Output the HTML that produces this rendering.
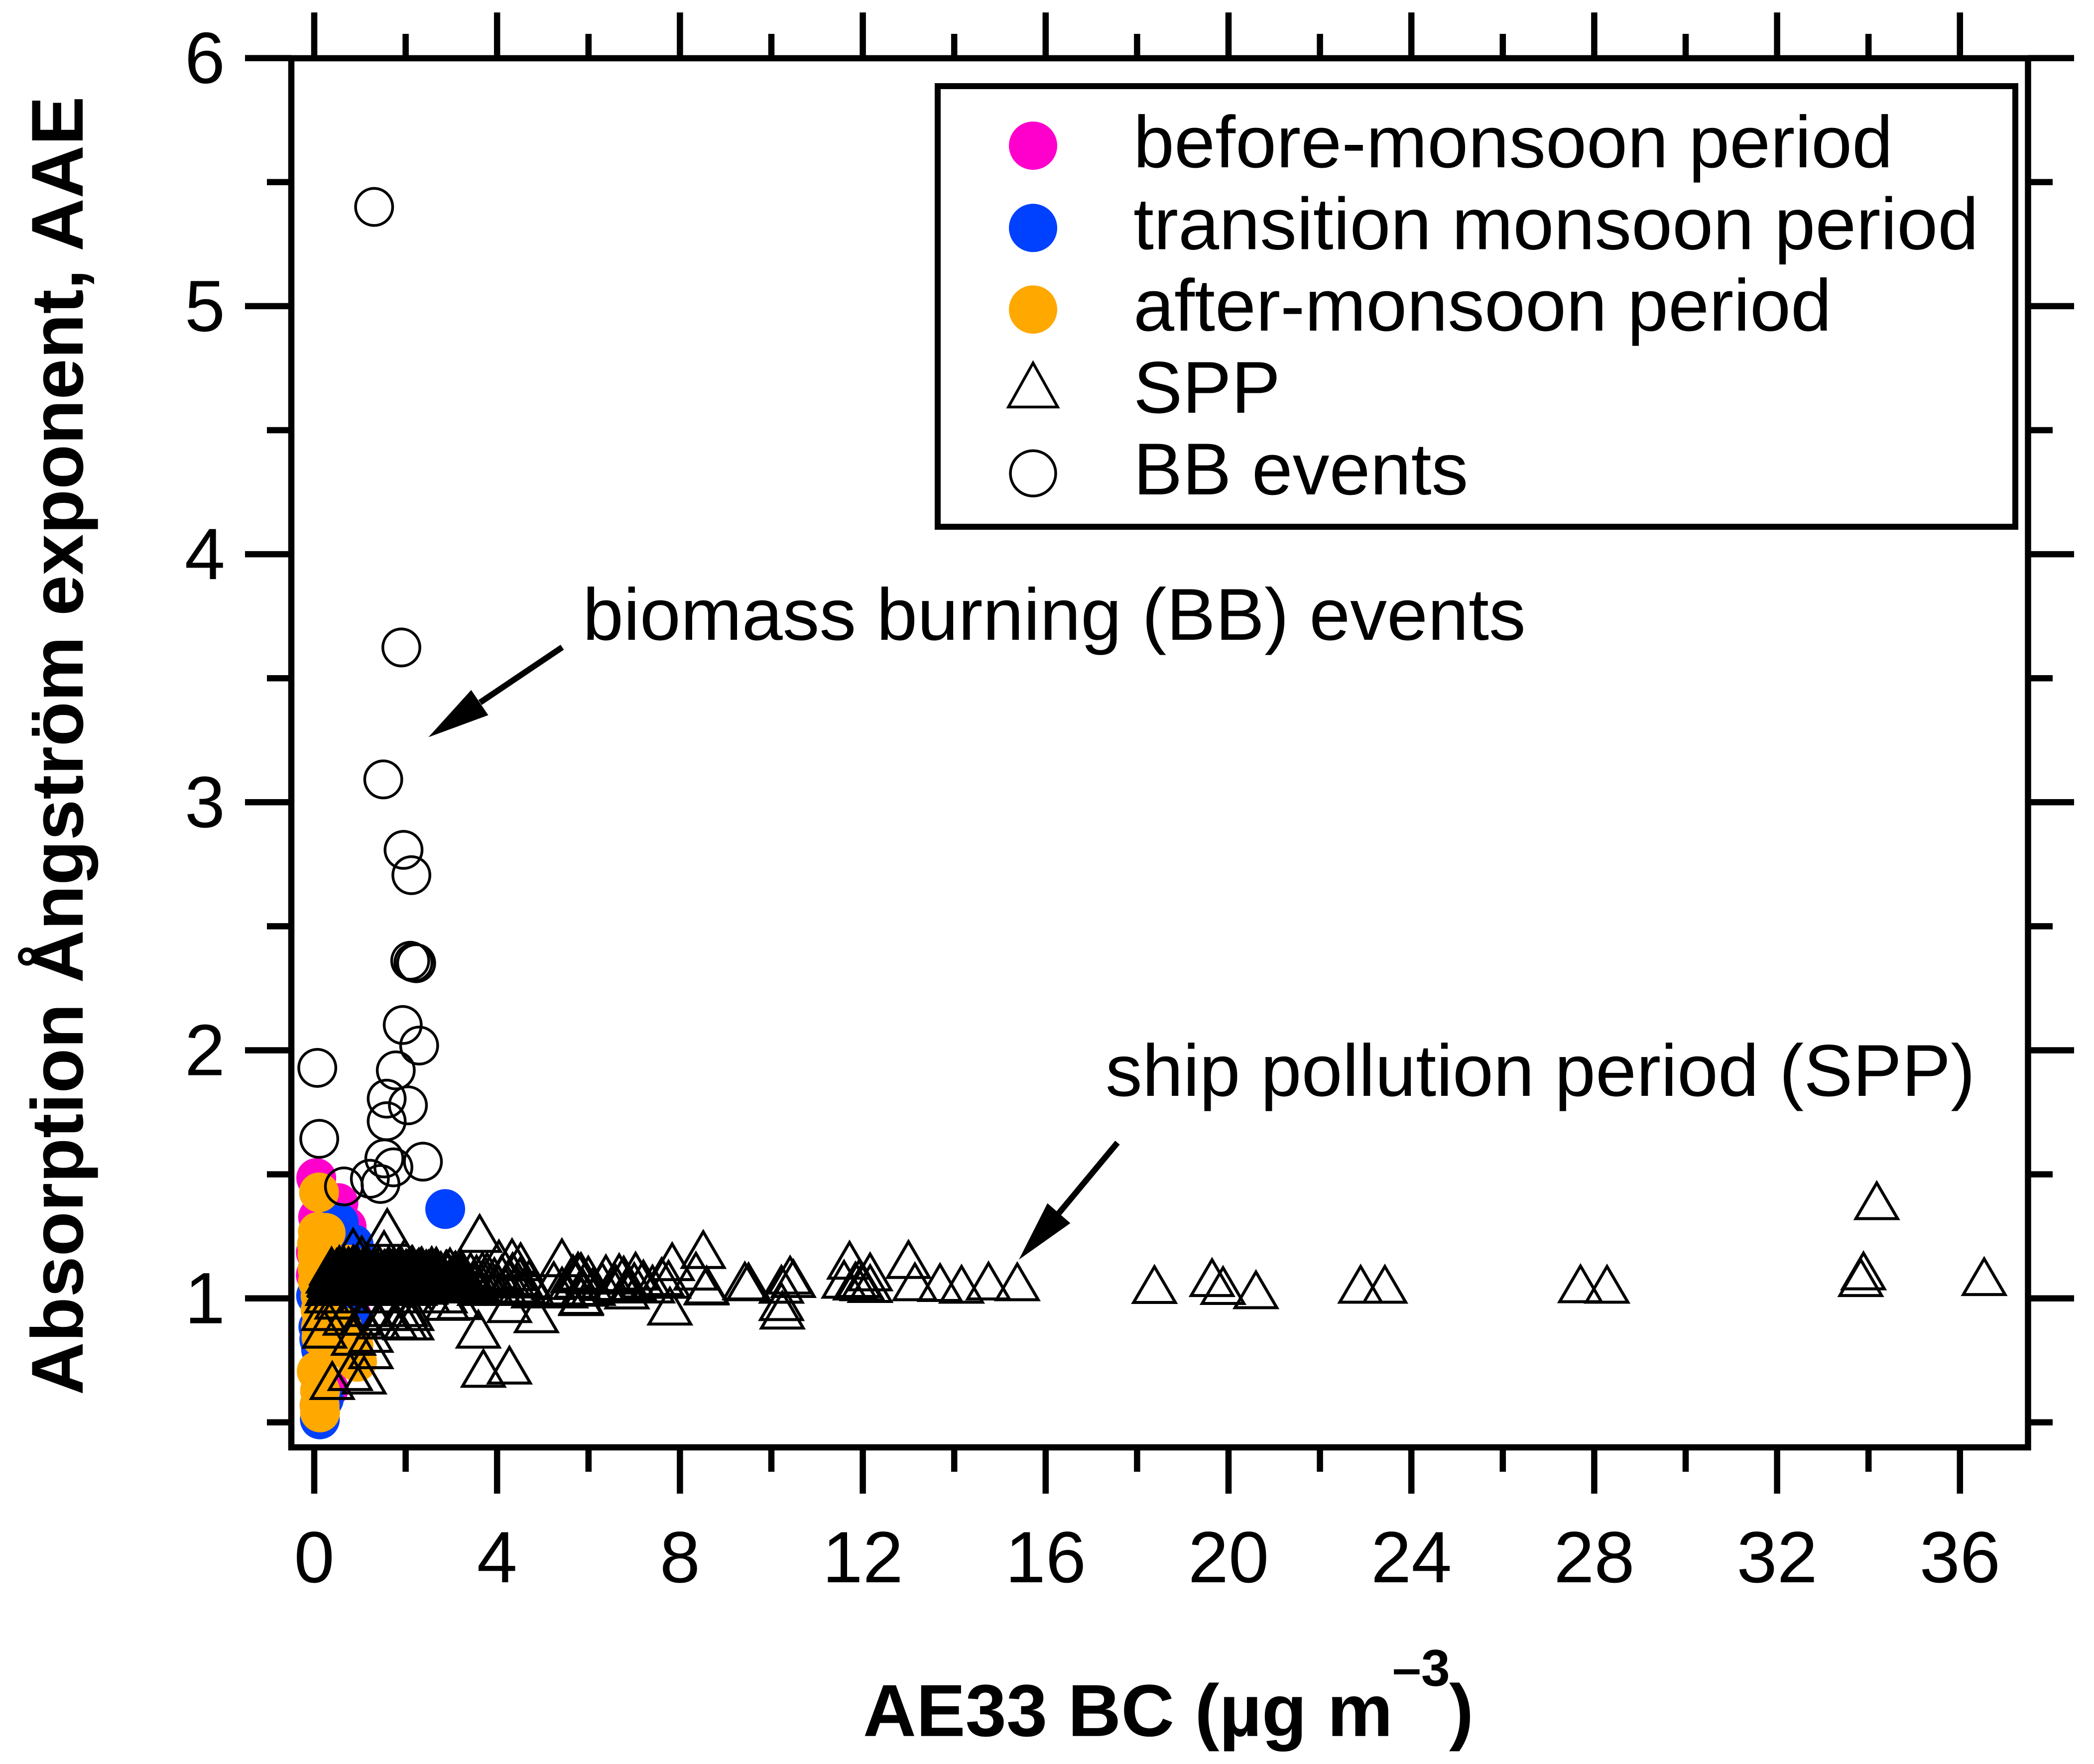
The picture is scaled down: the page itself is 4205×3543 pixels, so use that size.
<!DOCTYPE html>
<html lang="en">
<head>
<meta charset="utf-8">
<title>AAE vs AE33 BC</title>
<style>
html,body{margin:0;padding:0;background:#fff;}
svg{display:block;}
text{font-family:"Liberation Sans",Arial,sans-serif;fill:#000;}
</style>
</head>
<body>
<svg id="chart" xmlns="http://www.w3.org/2000/svg" width="4205" height="3543" viewBox="0 0 4205 3543">
<rect x="0" y="0" width="4205" height="3543" fill="#fff"/>
<g id="marks"></g>
<g id="axes"></g>

<g>
<rect x="1883" y="173" width="2164" height="885" fill="#fff" stroke="#000" stroke-width="12"/>
<circle cx="2074.5" cy="292.6" r="48.5" fill="#FF00CC"/>
<circle cx="2074.5" cy="457.8" r="48.5" fill="#0040FF"/>
<circle cx="2074.5" cy="621.7" r="48.5" fill="#FFA800"/>
<polygon points="2074.5,729 2025,817.5 2124,817.5" fill="none" stroke="#000" stroke-width="5.5"/>
<circle cx="2074.5" cy="950.8" r="45.5" fill="none" stroke="#000" stroke-width="5.5"/>
<text x="2276" y="336" font-size="147.5">before-monsoon period</text>
<text x="2276" y="500.5" font-size="147.5">transition monsoon period</text>
<text x="2276" y="664" font-size="147.5">after-monsoon period</text>
<text x="2276" y="829" font-size="147.5">SPP</text>
<text x="2276" y="993" font-size="147.5">BB events</text>
</g>

<g>
<text x="1170" y="1285" font-size="147.5">biomass burning (BB) events</text>
<line x1="1129" y1="1300" x2="964" y2="1411" stroke="#000" stroke-width="12"/>
<polygon points="860.4,1480.6 946.2,1385.9 980.5,1436.4" fill="#000"/>
<text x="2220" y="2201" font-size="147.5">ship pollution period (SPP)</text>
<line x1="2244" y1="2295" x2="2126" y2="2437" stroke="#000" stroke-width="12"/>
<polygon points="2046,2530 2103.4,2416.7 2149.4,2456.7" fill="#000"/>
</g>

<text y="3486.7" font-size="148" font-weight="bold"><tspan x="1733">AE33 BC (µg m</tspan><tspan x="2796" y="3386" font-size="104">–3</tspan><tspan x="2910" y="3486.7">)</tspan></text>
<text transform="translate(166,2802) rotate(-90)" x="0" y="0" font-size="147.5" font-weight="bold">Absorption Ångström exponent, AAE</text>
</svg>

<script>
var xMajorTicks = [0, 4, 8, 12, 16, 20, 24, 28, 32, 36];
var xMinorTicks = [2, 6, 10, 14, 18, 22, 26, 30, 34];
var yMajorTicks = [1, 2, 3, 4, 5, 6];
var yMinorTicks = [0.5, 1.5, 2.5, 3.5, 4.5, 5.5];

var beforeX = [0.044, 0.53, 0.085, 0.708, 0.035, 0.035, 0.825, 0.316];
var beforeY = [1.485, 1.384, 1.327, 1.289, 1.185, 1.094, 0.927, 0.636];

var transitionX = [2.865, 0.537, 0.861, 1.77, 0.04, 0.78, 0.123, 0.117, 0.21, 0.09, 0.11, 0.15];
var transitionY = [1.36, 1.305, 1.218, 1.118, 1.01, 0.927, 0.512, 0.569, 0.594, 0.885, 0.835, 0.794];

var afterX = [0.105, 0.08, 0.25, 0.06, 0.07, 0.075, 0.08, 0.14, 0.14, 0.15, 0.16, 0.75, 0.937, 0.86, 0.055, 0.127, 0.117, 0.127, 0.607, 0.425];
var afterY = [1.427, 1.268, 1.264, 1.218, 1.177, 1.118, 1.068, 1.01, 0.952, 0.885, 0.843, 1.136, 0.744, 0.81, 0.706, 0.627, 0.569, 0.54, 0.885, 0.803];

var sppX = [
.31,.36,.41,.45,.50,.54,.58,.62,.66,.70,
.74,.78,.82,.86,.90,.94,.98,1.02,1.06,1.10,
1.14,1.18,1.22,1.26,1.30,1.34,1.38,1.42,1.46,1.50,
1.54,1.58,1.62,1.66,1.70,1.74,1.78,1.82,1.86,1.90,
1.94,1.98,2.02,2.06,2.10,2.14,2.18,2.22,2.26,2.30,
2.34,2.38,2.42,2.46,2.50,2.54,2.58,2.62,2.66,2.70,
2.75,2.80,2.85,2.90,2.95,3.0,3.06,3.12,3.18,3.24,
3.30,3.36,3.42,3.48,3.55,3.62,3.70,3.78,3.86,3.94,
4.02,4.10,4.18,4.26,4.34,4.42,4.50,4.60,4.70,4.80,
.30,.40,.52,.64,.76,.88,1.0,1.12,1.24,1.36,
1.48,1.60,1.72,1.84,1.96,2.08,2.20,2.32,2.44,2.56,
1.596,1.527,3.618,5.418,8.51,7.83,8.35,7.75,8.58,7.78,
4.27,3.70,3.59,4.86,5.84,4.27,3.16,.852,.394,1.09,
.788,1.24,.86,1.24,.225,2.13,1.99,2.13,.207,.68,
1.04,1.40,1.77,1.59,2.0,1.22,.50,.28,.68,1.04,
1.40,1.77,2.13,2.49,2.86,2.91,1.98,1.04,2.88,2.57,
2.29,1.46,.852,4.515,4.327,4.04,3.68,3.215,5.24,5.42,
5.66,5.77,5.835,5.73,5.995,6.38,6.67,6.77,7.03,6.84,
5.835,5.87,5.5,6.1,6.3,6.6,7.2,7.4,7.0,7.6,
8.585,9.42,9.50,10.22,10.41,10.48,10.24,10.22,11.71,12.16,
11.59,11.84,11.92,12.16,11.99,13.0,13.14,13.69,14.16,14.75,
15.38,18.38,19.64,19.88,20.6,22.89,23.42,27.7,28.28,33.83,
33.89,34.18,36.53,
.32,.35,.38,.43,.47,.51,.55,.59,.63,.67,
.71,.75,.79,.83,.87,.91,.95,.99,1.03,1.07,
1.11,1.15,1.19,1.23,1.27,1.31,1.35,1.39,1.43,1.47,
1.51,1.55,1.59,1.63,1.67,1.71,1.75,1.79,1.83,1.87,
1.91,1.95,1.99,2.03,2.07,2.11,2.15,2.19,2.23,2.27,
2.31,2.35,2.39,2.43,2.47,2.51,2.55,2.59,2.63,2.67,
2.72,2.77,2.82,2.87,2.92,2.97,3.03,3.09,3.15,3.21,
.35,.48,.6,.72,.84,.96,1.08,1.2,1.32,1.44,
1.56,1.68,1.8,1.92,2.04,2.16,2.28,2.4,2.52,2.64,
.33,.39,.44,.49,.53,.57,.61,.65,.69,.73,
.77,.81,.85,.89,.93,.97,1.01,1.05,1.09,1.13,
1.17,1.21,1.25,1.29,1.33,1.37,1.41,1.45,1.49,1.53,
1.57,1.61,1.65,1.69,1.73,1.77,1.81,1.85,1.89,1.93,
1.97,2.01,2.05,2.09,2.13,2.17,2.21,2.25,2.29,2.33,
2.37,2.41,2.45,2.49,2.53,2.57,2.61,2.65,2.69,2.74
];
var sppY = [
1.08,1.05,1.07,1.04,1.09,1.06,1.10,1.04,1.08,1.06,
1.09,1.05,1.10,1.07,1.04,1.10,1.06,1.09,1.04,1.08,
1.05,1.10,1.07,1.04,1.09,1.06,1.10,1.04,1.09,1.06,
1.10,1.05,1.08,1.04,1.10,1.06,1.09,1.04,1.08,1.06,
1.09,1.04,1.07,1.10,1.05,1.09,1.06,1.04,1.10,1.07,
1.05,1.09,1.04,1.07,1.10,1.05,1.08,1.04,1.09,1.06,
1.04,1.08,1.05,1.10,1.06,1.04,1.09,1.05,1.08,1.04,
1.07,1.04,1.09,1.05,1.08,1.03,1.06,1.09,1.04,1.07,
1.04,1.08,1.03,1.06,1.09,1.04,1.07,1.03,1.06,1.02,
1.03,1.045,1.035,1.04,1.03,1.045,1.035,1.04,1.03,1.045,
1.035,1.04,1.03,1.045,1.035,1.04,1.03,1.045,1.035,1.04,
1.268,1.179,1.244,1.146,1.179,1.130,1.092,1.059,1.032,.951,
.713,.700,.858,.920,.994,.961,.973,1.188,.651,.673,
.687,.775,.829,.841,.858,.891,.891,.929,.929,.91,
.91,.895,.895,.929,.945,.945,.975,1.0,1.0,1.0,
1.0,1.0,1.0,1.0,1.0,.97,1.146,1.157,1.098,1.105,
1.108,1.092,1.12,1.13,1.146,1.141,1.092,1.103,1.054,1.032,
1.081,1.092,1.09,1.059,1.076,1.081,1.086,1.076,1.092,1.016,
.989,1.027,1.02,1.03,1.05,1.04,1.06,1.04,1.05,1.07,
1.036,1.052,1.049,1.039,1.076,1.062,.935,.969,1.136,1.089,
1.059,1.052,1.062,1.042,1.049,1.139,1.049,1.046,1.039,1.052,
1.049,1.038,1.066,1.034,1.017,1.039,1.039,1.041,1.039,1.066,
1.093,1.376,1.07,
1.083,1.062,1.112,1.057,1.095,1.074,1.118,1.066,1.088,1.102,
1.053,1.113,1.079,1.058,1.097,1.069,1.115,1.085,1.056,1.104,
1.072,1.118,1.061,1.092,1.055,1.108,1.077,1.066,1.114,1.083,
1.054,1.101,1.073,1.116,1.064,1.089,1.111,1.057,1.095,1.078,
1.112,1.065,1.086,1.053,1.107,1.074,1.118,1.082,1.059,1.096,
1.071,1.113,1.056,1.091,1.078,1.062,1.105,1.084,1.068,1.112,
1.058,1.094,1.075,1.063,1.087,1.109,1.069,1.096,1.061,1.083,
1.048,1.052,1.043,1.05,1.046,1.052,1.044,1.05,1.047,1.053,
1.045,1.051,1.047,1.052,1.043,1.05,1.046,1.052,1.044,1.05,
1.067,1.092,1.052,1.106,1.071,1.085,1.059,1.114,1.078,1.063,
1.098,1.056,1.087,1.116,1.067,1.081,1.055,1.103,1.091,1.062,
1.109,1.075,1.049,1.094,1.083,1.061,1.117,1.071,1.053,1.101,
1.087,1.065,1.106,1.079,1.051,1.098,1.068,1.113,1.084,1.056,
1.075,1.103,1.061,1.088,1.117,1.055,1.072,1.099,1.065,1.109,
1.081,1.054,1.101,1.066,1.089,1.114,1.058,1.076,1.097,1.063
];

var bbX = [1.31, 1.906, 1.51, 1.954, 2.125, 2.10, 2.17, 2.23, 1.936, 2.295, 1.784, 0.067, 1.585, 2.05, 1.585, 0.11, 1.533, 1.732, 2.378, 1.217, 1.449, 0.65];
var bbY = [5.40, 3.624, 3.092, 2.808, 2.706, 2.361, 2.354, 2.351, 2.102, 2.019, 1.919, 1.929, 1.805, 1.778, 1.714, 1.643, 1.564, 1.528, 1.551, 1.482, 1.461, 1.451];

var NS = 'http://www.w3.org/2000/svg';
var marks = document.getElementById('marks');
var axes = document.getElementById('axes');

function xScale(v) { return 631 + v * 91.8; }
function yScale(v) { return 2607.7 - (v - 1) * 498.2; }

function make(tag, attrs, parent) {
  var el = document.createElementNS(NS, tag);
  for (var k in attrs) { el.setAttribute(k, attrs[k]); }
  parent.appendChild(el);
  return el;
}

function drawFilled(xs, ys, color, name) {
  for (var i = 0; i < xs.length; i++) {
    var c = make('circle', { cx: xScale(xs[i]), cy: yScale(ys[i]), r: 40, fill: color }, marks);
    
    
  }
}

drawFilled(beforeX, beforeY, '#FF00CC', 'before-monsoon-point');
drawFilled(transitionX, transitionY, '#0040FF', 'transition-monsoon-point');
drawFilled(afterX, afterY, '#FFA800', 'after-monsoon-point');

for (var t = 0; t < sppX.length; t++) {
  var tx = xScale(sppX[t]);
  var ty = yScale(sppY[t]);
  var tri = make('polygon', {
    points: tx + ',' + (ty - 44.5) + ' ' + (tx - 41.9) + ',' + (ty + 27.25) + ' ' + (tx + 41.9) + ',' + (ty + 27.25),
    fill: 'none', stroke: '#000', 'stroke-width': 6
  }, marks);
  
  
}

for (var b = 0; b < bbX.length; b++) {
  var circ = make('circle', { cx: xScale(bbX[b]), cy: yScale(bbY[b]), r: 37.2, fill: 'none', stroke: '#000', 'stroke-width': 5.5 }, marks);
  
  
}

var frame = make('rect', { x: 585, y: 117, width: 3487.5, height: 2790, fill: 'none', stroke: '#000', 'stroke-width': 12.5 }, axes);



function tickLine(x1, y1, x2, y2, name) {
  var l = make('line', { x1: x1, y1: y1, x2: x2, y2: y2, stroke: '#000', 'stroke-width': 12.5 }, axes);
  
  
}

xMajorTicks.forEach(function (v) {
  var x = xScale(v);
  tickLine(x, 2907, x, 3000, 'x-major-tick');
  tickLine(x, 117, x, 25, 'x-top-major-tick');
  var lbl = make('text', { x: x, y: 3178, 'font-size': 146, 'text-anchor': 'middle' }, axes);
  
  
  lbl.textContent = String(v);
});
xMinorTicks.forEach(function (v) {
  var x = xScale(v);
  tickLine(x, 2907, x, 2956, 'x-minor-tick');
  tickLine(x, 117, x, 68, 'x-top-minor-tick');
});
yMajorTicks.forEach(function (v) {
  var y = yScale(v);
  tickLine(585, y, 492, y, 'y-major-tick');
  tickLine(4072.5, y, 4165, y, 'y-right-major-tick');
  var lbl = make('text', { x: 452, y: y + 50, 'font-size': 146, 'text-anchor': 'end' }, axes);
  
  
  lbl.textContent = String(v);
});
yMinorTicks.forEach(function (v) {
  var y = yScale(v);
  tickLine(585, y, 536, y, 'y-minor-tick');
  tickLine(4072.5, y, 4122, y, 'y-right-minor-tick');
});
</script>
</body>
</html>
